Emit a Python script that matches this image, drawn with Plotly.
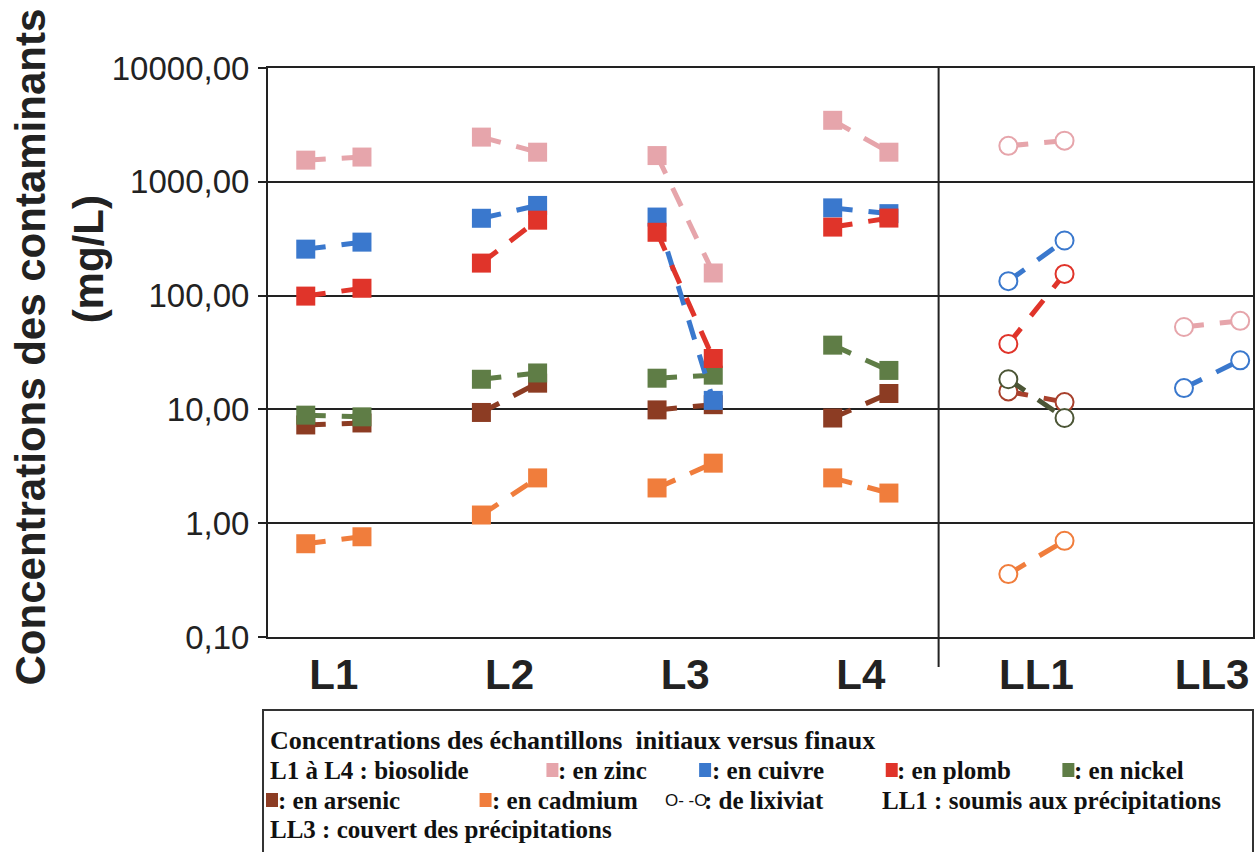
import plotly.graph_objects as go

# ---------------- data ----------------
groups = ["L1", "L2", "L3", "L4", "LL1", "LL3"]
bio_groups = ["L1", "L2", "L3", "L4"]
lix_groups = ["LL1", "LL3"]
y_tickvals = [0.1, 1, 10, 100, 1000, 10000]
y_ticktext = ["0,10", "1,00", "10,00", "100,00", "1000,00", "10000,00"]

# biosolid samples (initial, final) for L1..L4, mg/L
zinc_initial = [1550, 2470, 1700, 3470]
zinc_final = [1650, 1820, 158, 1820]
copper_initial = [256, 478, 490, 590]
copper_final = [295, 620, 12, 525]
lead_initial = [99, 193, 360, 400]
lead_final = [116, 460, 28, 480]
nickel_initial = [8.9, 18.4, 18.8, 36.7]
nickel_final = [8.6, 20.9, 20.0, 22.0]
arsenic_initial = [7.3, 9.4, 9.9, 8.4]
arsenic_final = [7.6, 17.0, 11.0, 13.8]
cadmium_initial = [0.66, 1.18, 2.04, 2.5]
cadmium_final = [0.76, 2.5, 3.37, 1.84]

# leachate samples (initial, final) for LL1, LL3
lix_zinc_initial = [2070, 53]
lix_zinc_final = [2300, 60]
lix_copper_initial = [134, 15.4]
lix_copper_final = [305, 27]
lix_lead_initial = [37.6, None]
lix_lead_final = [155, None]
lix_nickel_initial = [18.4, None]
lix_nickel_final = [8.4, None]
lix_arsenic_initial = [14.4, None]
lix_arsenic_final = [11.6, None]
lix_cadmium_initial = [0.357, None]
lix_cadmium_final = [0.70, None]

# ---------------- styling ----------------
C_ZINC = "#E6A5AB"
C_COPPER = "#3A78CD"
C_LEAD = "#E0342A"
C_NICKEL = "#5F7D46"
C_ARSENIC = "#8C3C23"
C_CADMIUM = "#F07D3C"
C_LNICKEL = "#4B5535"
C_LARSENIC = "#A8402C"

OFF = 0.16
DASH = "20px,16px"

# figure geometry (pixels)
W, H = 1259, 852
L, R, T, B = 268, 1255, 68, 637


def px(x):
    return (x - L) / (R - L)


def py(y):
    return (B - y) / (B - T)


def pair_xy(group_list, init, final):
    xs, ys = [], []
    for g, a, b in zip(group_list, init, final):
        if a is None or b is None:
            continue
        i = groups.index(g)
        xs += [i - OFF, i + OFF, None]
        ys += [a, b, None]
    return xs, ys


fig = go.Figure()

bio_series = [
    (zinc_initial, zinc_final, C_ZINC),
    (arsenic_initial, arsenic_final, C_ARSENIC),
    (nickel_initial, nickel_final, C_NICKEL),
    (copper_initial, copper_final, C_COPPER),
    (lead_initial, lead_final, C_LEAD),
    (cadmium_initial, cadmium_final, C_CADMIUM),
]
for ini, fin, col in bio_series:
    xs, ys = pair_xy(bio_groups, ini, fin)
    fig.add_trace(go.Scatter(
        x=xs, y=ys, mode="lines+markers", connectgaps=False,
        line=dict(color=col, width=5, dash=DASH),
        marker=dict(symbol="square", size=19, color=col, line=dict(width=0)),
        showlegend=False, hoverinfo="skip"))

lix_series = [
    (lix_zinc_initial, lix_zinc_final, C_ZINC),
    (lix_arsenic_initial, lix_arsenic_final, C_LARSENIC),
    (lix_nickel_initial, lix_nickel_final, C_LNICKEL),
    (lix_copper_initial, lix_copper_final, C_COPPER),
    (lix_lead_initial, lix_lead_final, C_LEAD),
    (lix_cadmium_initial, lix_cadmium_final, C_CADMIUM),
]
for ini, fin, col in lix_series:
    xs, ys = pair_xy(lix_groups, ini, fin)
    fig.add_trace(go.Scatter(
        x=xs, y=ys, mode="lines+markers", connectgaps=False,
        line=dict(color=col, width=5, dash=DASH),
        marker=dict(symbol="circle", size=18, color="white",
                    line=dict(width=2, color=col)),
        showlegend=False, hoverinfo="skip"))

x0 = -(66 / 176)
x1 = x0 + (R - L) / 176

fig.update_layout(
    width=W, height=H,
    margin=dict(l=L, r=W - R, t=T, b=H - B),
    paper_bgcolor="white", plot_bgcolor="white",
    xaxis=dict(
        range=[x0, x1], tickvals=list(range(len(groups))), ticktext=groups,
        tickfont=dict(family="Liberation Sans", size=42, color="#222", weight="bold"),
        showgrid=False, zeroline=False, showline=True, linecolor="#222",
        linewidth=2, mirror=True, ticks="", ticklabelstandoff=0),
    yaxis=dict(
        type="log", range=[-1, 4], tickvals=y_tickvals, ticktext=y_ticktext,
        tickfont=dict(family="Liberation Sans", size=33, color="#222"),
        showgrid=True, gridcolor="#222", gridwidth=2,
        showline=True, linecolor="#222", linewidth=2, mirror=True,
        ticks="outside", ticklen=8, tickwidth=2, tickcolor="#222",
        ticklabelstandoff=2, zeroline=False),
)

# vertical separator between biosolid and leachate groups
fig.add_shape(type="line", xref="x", yref="paper", x0=3.443, x1=3.443,
              y0=py(667), y1=1, line=dict(color="#222", width=2))

# y-axis title (two lines)
fig.add_annotation(text="<b>Concentrations des contaminants</b>", xref="paper", yref="paper",
                   x=px(30), y=py(347), textangle=-90, showarrow=False,
                   font=dict(family="Liberation Sans", size=42, color="#222"),
                   xanchor="center", yanchor="middle")
fig.add_annotation(text="<b>(mg/L)</b>", xref="paper", yref="paper",
                   x=px(88), y=py(259), textangle=-90, showarrow=False,
                   font=dict(family="Liberation Sans", size=42, color="#222"),
                   xanchor="center", yanchor="middle")

# legend box
fig.add_shape(type="rect", xref="paper", yref="paper",
              x0=px(263), x1=px(1255), y0=py(870), y1=py(710),
              line=dict(color="#333", width=2), fillcolor="rgba(0,0,0,0)")


def leg_text(text, x, y, size=25):
    fig.add_annotation(text="<b>" + text + "</b>", xref="paper", yref="paper",
                       x=px(x), y=py(y), showarrow=False, xanchor="left",
                       yanchor="middle",
                       font=dict(family="Liberation Serif", size=size, color="#111"))


def leg_square(cx, cy, col):
    fig.add_shape(type="rect", xref="paper", yref="paper",
                  x0=px(cx - 6), x1=px(cx + 6), y0=py(cy + 7), y1=py(cy - 7),
                  fillcolor=col, line=dict(width=0))


leg_text("Concentrations des échantillons&nbsp;&nbsp;initiaux versus finaux", 268, 740, 26)

leg_text("L1 à L4 : biosolide", 268, 770)
leg_square(553, 770, C_ZINC)
leg_text(": en zinc", 557, 770)
leg_square(706, 770, C_COPPER)
leg_text(": en cuivre", 711, 770)
leg_square(893, 770, C_LEAD)
leg_text(": en plomb", 896, 770)
leg_square(1070, 770, C_NICKEL)
leg_text(": en nickel", 1074, 770)

leg_square(272, 800, C_ARSENIC)
leg_text(": en arsenic", 276, 800)
leg_square(486, 800, C_CADMIUM)
leg_text(": en cadmium", 490, 800)
fig.add_annotation(text="O- -O", xref="paper", yref="paper", x=px(664), y=py(800),
                   showarrow=False, xanchor="left", yanchor="middle",
                   font=dict(family="Liberation Sans", size=17, color="#111"))
leg_text(": de lixiviat", 703, 800)
leg_text("LL1 : soumis aux précipitations", 881, 800)

leg_text("LL3 : couvert des précipitations", 268, 830)

fig.write_html("out.html", post_script="document.body.style.margin='0';",
               config={"displayModeBar": False})
